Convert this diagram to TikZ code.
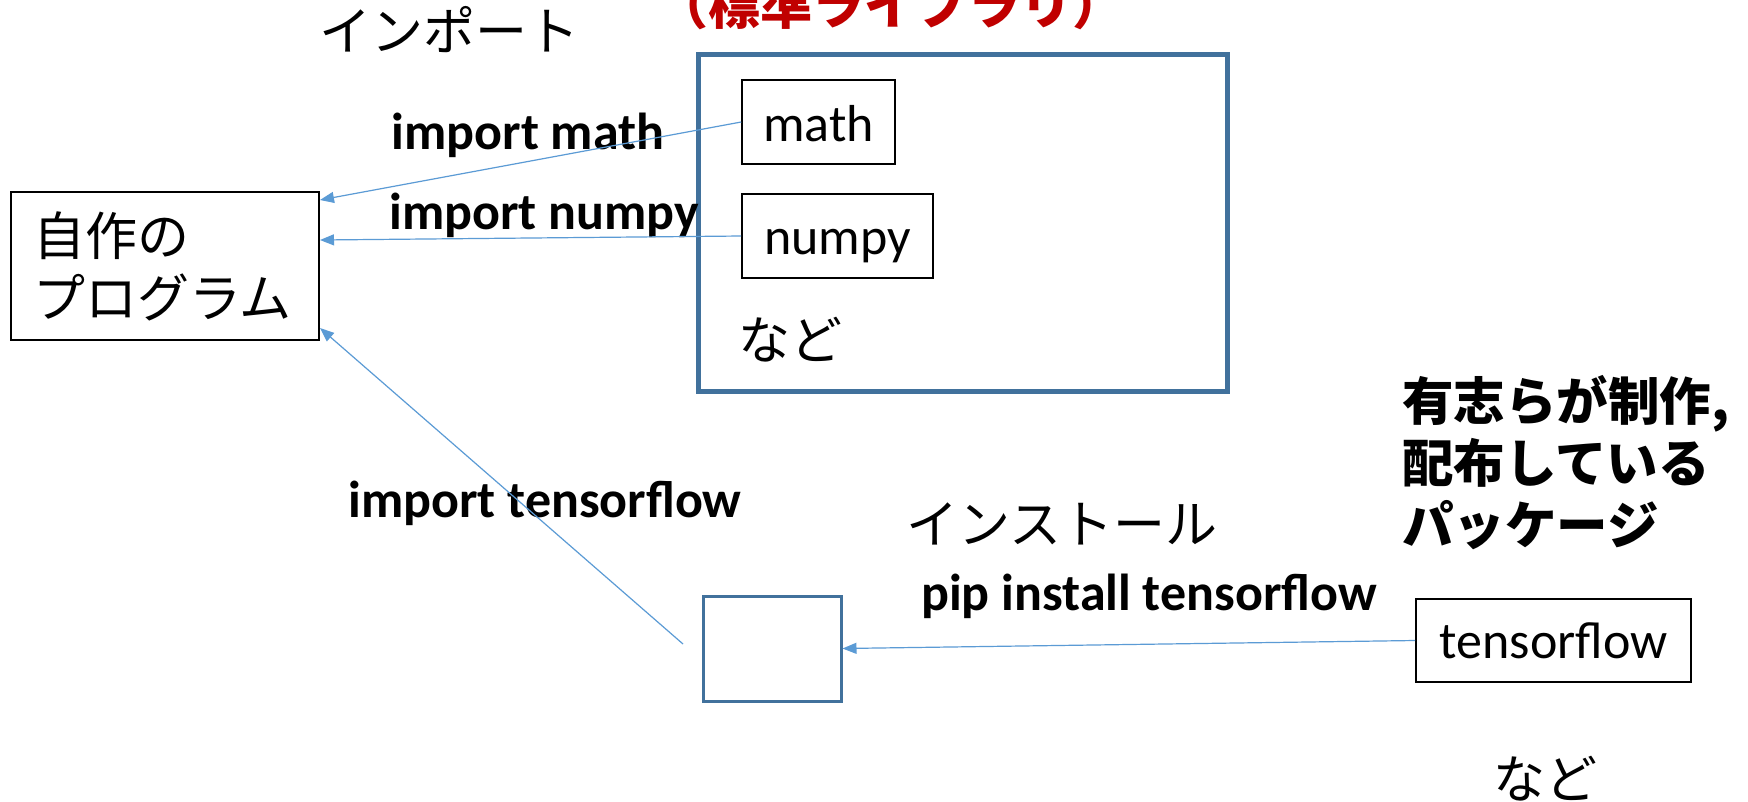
\documentclass[tikz,border=0pt]{standalone}
\usepackage{fontspec}
\setmainfont{Carlito}
\newfontfamily\cjk{Noto Sans CJK JP}
\usetikzlibrary{arrows.meta}
\definecolor{arrowblue}{HTML}{5B9BD5}
\definecolor{boxblue}{HTML}{41719C}
\definecolor{libred}{HTML}{C00000}
\begin{document}
\begin{tikzpicture}[x=1pt,y=-1pt,
  txt/.style={font=\fontsize{52}{62}\selectfont, inner sep=0pt},
  jtxt/.style={font=\cjk\fontsize{52}{62}\selectfont, inner sep=0pt},
  bjtxt/.style={font=\cjk\bfseries\fontsize{51.5}{62}\selectfont, inner sep=0pt},
  btxt/.style={font=\bfseries\fontsize{52}{62}\selectfont, inner sep=0pt},
  blackbox/.style={draw=black, line width=1.6pt, inner sep=0pt},
  conn/.style={draw=arrowblue, line width=1.2pt, -{Triangle[length=14pt,width=11pt]}}]
\useasboundingbox (0,0) rectangle (1748,801);
\fill[white] (0,0) rectangle (1748,801);

% program box
\node[blackbox, line width=2pt, minimum width=308pt, minimum height=148pt, text width=264pt, align=left,
  font=\cjk\fontsize{52}{62}\selectfont, inner xsep=22pt] (prog) at (165,266) {自作の\\プログラム};

% standard library big box
\node[draw=boxblue, line width=5pt, minimum width=529pt, minimum height=337pt, inner sep=0pt] (stdbox) at (962.5,222.5) {};
\node[blackbox, minimum width=153pt, minimum height=84pt, txt, text height=38pt, text depth=0pt] (math) at (818.5,122) {math};
\node[blackbox, minimum width=191pt, minimum height=84pt, txt, text height=38pt, text depth=2pt] (numpy) at (837.5,236) {numpy};
\node[jtxt] (nado1) at (790,340) {など};

% small installed box
\node[draw=boxblue, line width=3pt, minimum width=138pt, minimum height=105pt, inner sep=0pt] (small) at (772,648.5) {};

% tensorflow box
\node[blackbox, line width=2pt, minimum width=275pt, minimum height=83pt, txt] (tf) at (1553.5,640.5) {tensorflow};

% labels
\node[jtxt] (importlbl) at (449,30) {インポート};
\node[font=\cjk\bfseries\fontsize{52}{62}\selectfont, text=libred, inner sep=0pt] (stdlbl) at (890,4) {（標準ライブラリ）};
\node[btxt] (imath) at (528,135) {import math};
\node[btxt] (inumpy) at (544,215) {import numpy};
\node[btxt] (itf) at (545,503) {import tensorflow};
\node[jtxt] (installlbl) at (1062,524) {インストール};
\node[btxt] (pip) at (1149,596) {pip install tensorflow};
\node[bjtxt, align=left, anchor=west] (pkg) at (1402,463) {有志らが制作,\\配布している\\パッケージ};
\node[jtxt] (nado2) at (1545,779) {など};

% connectors
\coordinate (tfstart) at (683,644);
\draw[conn] (math.west) -- ([yshift=-9pt]prog.north east);
\draw[conn] (numpy.west) -- ([yshift=-49pt]prog.north east);
\draw[conn] (tfstart) -- ([yshift=13pt]prog.south east);
\draw[conn] (tf.west) -- (small.east);
\end{tikzpicture}
\end{document}
